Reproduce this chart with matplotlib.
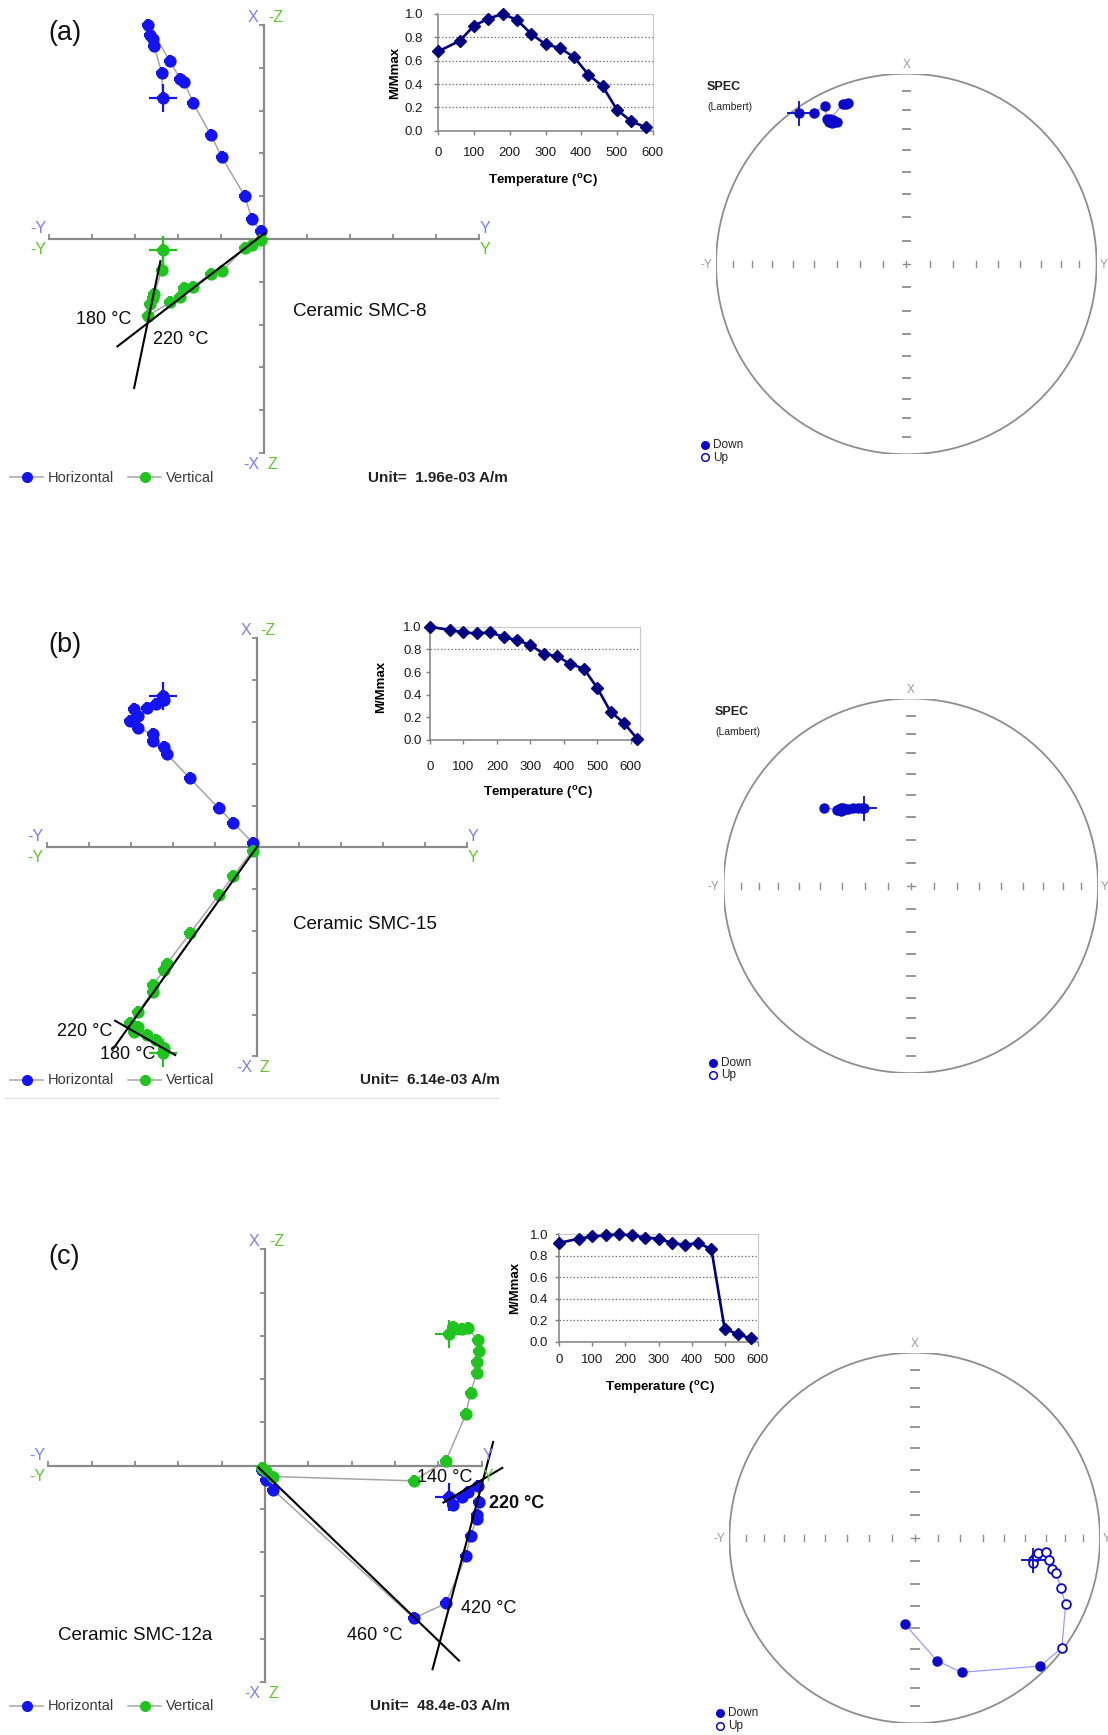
import numpy as np
import matplotlib
matplotlib.use("Agg")
import matplotlib.pyplot as plt
from matplotlib.patches import Circle
from matplotlib.ticker import FormatStrFormatter

plt.rcParams["font.family"] = ["Liberation Sans", "DejaVu Sans"]
plt.rcParams["mathtext.fontset"] = "custom"
plt.rcParams["mathtext.rm"] = "Liberation Sans"
plt.rcParams["mathtext.bf"] = "Liberation Sans:bold"

W, H, DPI = 1108, 1735, 100

# ---------------- thermal demagnetisation: steps (deg C) and M/Mmax ----------------
temp_a = [0, 60, 100, 140, 180, 220, 260, 300, 340, 380, 420, 460, 500, 540, 580]
mnorm_a = [0.68, 0.77, 0.90, 0.96, 1.00, 0.95, 0.83, 0.74, 0.71, 0.63, 0.48, 0.38, 0.18, 0.08, 0.03]

temp_b = [0, 60, 100, 140, 180, 220, 260, 300, 340, 380, 420, 460, 500, 540, 580, 620]
mnorm_b = [1.00, 0.97, 0.95, 0.94, 0.95, 0.91, 0.88, 0.84, 0.76, 0.74, 0.67, 0.63, 0.46, 0.25, 0.15, 0.01]

temp_c = [0, 60, 100, 140, 180, 220, 260, 300, 340, 380, 420, 460, 500, 540, 580]
mnorm_c = [0.92, 0.96, 0.98, 0.99, 1.00, 0.99, 0.97, 0.96, 0.92, 0.90, 0.92, 0.86, 0.12, 0.07, 0.03]

# ---------------- vector end points (Unit), Y east, X north, Z down ----------------
y_a = [-2.35, -2.38, -2.55, -2.58, -2.66, -2.69, -2.19, -1.95, -1.85, -1.65, -1.24, -0.98, -0.45, -0.28, -0.08]
x_a = [3.29, 3.88, 4.50, 4.67, 4.77, 5.00, 4.16, 3.74, 3.66, 3.18, 2.44, 1.91, 1.01, 0.47, 0.18]
z_a = [0.25, 0.73, 1.28, 1.38, 1.53, 1.79, 1.48, 1.36, 1.15, 1.12, 0.81, 0.75, 0.21, 0.13, 0.02]

y_b = [-2.22, -2.20, -2.40, -2.62, -2.91, -2.82, -3.01, -2.82, -2.48, -2.48, -2.20, -2.14, -1.59, -0.90, -0.56, -0.10]
x_b = [3.62, 3.53, 3.42, 3.34, 3.31, 3.13, 3.01, 2.85, 2.71, 2.55, 2.41, 2.23, 1.65, 0.93, 0.59, 0.11]
z_b = [4.93, 4.81, 4.60, 4.49, 4.41, 4.30, 4.21, 3.93, 3.46, 3.30, 2.94, 2.79, 2.06, 1.14, 0.69, 0.08]

y_c = [4.25, 4.35, 4.54, 4.69, 4.92, 4.94, 4.90, 4.89, 4.75, 4.64, 4.18, 3.44, 0.18, 0.02, -0.06]
x_c = [-0.72, -0.91, -0.72, -0.60, -0.48, -0.83, -1.14, -1.22, -1.62, -2.08, -3.18, -3.52, -0.55, -0.33, -0.10]
z_c = [-3.05, -3.21, -3.15, -3.17, -2.90, -2.65, -2.40, -2.15, -1.69, -1.19, -0.12, 0.35, 0.25, 0.12, 0.06]

# fitted component lines ((y0, v0), (y1, v1)) in the same units
fits_a = [((-3.41, -2.51), (0.02, 0.14)), ((-2.41, -0.52), (-3.02, -3.48))]
fits_b = [((0.0, 0.0), (-3.41, -4.81)), ((-3.37, -4.15), (-1.94, -4.97))]
fits_c = [((-0.15, -0.04), (4.48, -4.50)), ((5.27, 0.55), (3.87, -4.70)),
          ((4.12, -0.85), (5.48, -0.05))]

# ---------------- directions (declination, inclination) for the equal-area nets ----------------
dec_a = [324.7, 328.7, 332.8, 331.2, 332.1, 332.1, 333.9, 332.5, 331.5, 332.6, 333.0, 332.4, 338.3, 340.2, 339.5]
inc_a = [3.0, 7.7, 7.2, 14.3, 15.5, 17.4, 17.9, 16.8, 16.0, 17.0, 16.2, 15.0, 10.6, 11.2, 11.0]

dec_b = [329.2, 328.0, 325.9, 323.4, 320.9, 318.3, 317.0, 318.0, 317.5, 318.5, 319.0, 317.0, 318.0, 319.5, 316.0, 312.1]
inc_b = [49.9, 49.5, 48.6, 47.3, 46.1, 44.9, 43.3, 44.0, 43.5, 44.5, 44.0, 44.5, 43.5, 45.0, 43.0, 37.8]

dec_c = [100.5, 102.0, 98.5, 96.8, 96.0, 99.3, 102.8, 103.8, 108.8, 113.7, 126.8, 135.6, 160.7, 169.6, 186.4]
inc_c = [-35.2, -34.9, -34.0, -33.3, -29.7, -27.3, -24.8, -22.5, -17.9, -12.0, -1.0, 3.7, 24.2, 33.0, 51.3]

# ---------------- styling ----------------
BLUE = "#1414f2"
GREEN = "#1fc41f"
PATH = "#a5a5a5"
AXG = "#8a8a8a"
HLAB = "#7c7cf8"
VLAB = "#5cc92e"
NAVY = "#000080"
NETG = "#8e8e8e"
SBLUE = "#0a0ac8"
SLINE = "#9a9aff"

fig = plt.figure(figsize=(W / DPI, H / DPI), dpi=DPI, facecolor="white")


def px_axes(left, top, right, bottom):
    return fig.add_axes([left / W, 1 - bottom / H, (right - left) / W, (bottom - top) / H])


def zijderveld(cx, cy, ux, uy, ye, xn, zd, fits):
    ax = px_axes(cx - 5 * ux, cy - 5 * uy, cx + 5 * ux, cy + 5 * uy)
    ax.set_xlim(-5, 5)
    ax.set_ylim(-5, 5)
    ax.patch.set_visible(False)
    ax.spines[["top", "right"]].set_visible(False)
    for s in ("left", "bottom"):
        ax.spines[s].set_position(("data", 0))
        ax.spines[s].set_color(AXG)
        ax.spines[s].set_linewidth(1.6)
    ticks = [t for t in range(-5, 6) if t != 0]
    ax.set_xticks(ticks)
    ax.set_yticks(ticks)
    ax.tick_params(axis="x", direction="in", length=3.5, width=1.3, color=AXG, labelbottom=False)
    ax.tick_params(axis="y", direction="out", length=3.5, width=1.3, color=AXG, labelleft=False)
    ye = np.asarray(ye)
    for v, col in ((np.asarray(xn), BLUE), (-np.asarray(zd), GREEN)):
        ax.plot(ye, v, "-", color=PATH, lw=1.1, zorder=2, clip_on=False)
        ax.plot(ye, v, "o", color=col, ms=7.8, zorder=3, clip_on=False)
        ax.plot(ye, v, "P", color=col, ms=8.2, mew=0, zorder=3, clip_on=False)
        ax.plot(ye[0], v[0], "+", color=col, ms=20, mew=1.6, zorder=3, clip_on=False)
    for p0, p1 in fits:
        ax.plot([p0[0], p1[0]], [p0[1], p1[1]], color="black", lw=1.5, zorder=4, clip_on=False)
    return ax


def demag(left, top, right, bottom, temps, m, xmax, grid, xpad, ypad, xlab, ylab):
    ax = px_axes(left, top, right, bottom)
    ax.set_xlim(0, xmax)
    ax.set_ylim(0, 1)
    for g in grid:
        ax.axhline(g, color="#7a7a7a", lw=0.9, ls=(0, (1.2, 1.6)), zorder=1)
    ax.plot(temps, m, "-", color=NAVY, lw=1.9, marker="D", ms=6.3, zorder=3, clip_on=False)
    ax.set_xticks(range(0, 601, 100))
    ax.set_yticks(np.round(np.arange(0, 1.01, 0.2), 1))
    ax.yaxis.set_major_formatter(FormatStrFormatter("%.1f"))
    for s in ("top", "right"):
        ax.spines[s].set_color("#c8c8c8")
    for s in ("left", "bottom"):
        ax.spines[s].set_color("#808080")
        ax.spines[s].set_linewidth(1.1)
    ax.tick_params(length=3, width=1, color="#808080", labelsize=9.5, labelcolor="#1a1a1a")
    ax.tick_params(axis="x", pad=xpad)
    ax.tick_params(axis="y", pad=ypad)
    ax.set_xlabel(r"Temperature ($^{\mathbf{o}}$C)", fontsize=9.5, fontweight="bold")
    ax.set_ylabel("M/Mmax", fontsize=9.5, fontweight="bold")
    ax.xaxis.set_label_coords((xlab[0] - left) / (right - left), (bottom - xlab[1]) / (bottom - top))
    ax.xaxis.label.set_va("center")
    ax.yaxis.set_label_coords((ylab[0] - left) / (right - left), (bottom - ylab[1]) / (bottom - top))
    ax.yaxis.label.set_va("center")
    return ax


def lambert(dec, inc):
    d = np.radians(np.asarray(dec))
    i = np.radians(np.abs(np.asarray(inc)))
    r = np.sqrt(2) * np.sin((np.pi / 2 - i) / 2)
    return r * np.sin(d), r * np.cos(d)


def stereonet(cx, cy, R, dec, inc):
    ax = px_axes(cx - R, cy - R, cx + R, cy + R)
    ax.set_xlim(-1, 1)
    ax.set_ylim(-1, 1)
    ax.axis("off")
    ax.add_patch(Circle((0, 0), 1, fill=False, ec=NETG, lw=1.3))
    rr = np.sqrt(2) * np.sin(np.radians((90 - np.arange(10, 90, 10)) / 2))
    th, tw = 3.2 / R, 3.8 / R
    for r in rr:
        for s in (-1, 1):
            ax.plot([s * r, s * r], [-th, th], color=NETG, lw=1.0)
            ax.plot([-tw, tw], [s * r, s * r], color=NETG, lw=1.3)
    ax.plot([-tw, tw], [0, 0], color=NETG, lw=1.0)
    ax.plot([0, 0], [-th, th], color=NETG, lw=1.0)
    x, y = lambert(dec, inc)
    down = np.asarray(inc) >= 0
    ax.plot(x, y, "-", color=SLINE, lw=0.9, zorder=2)
    ax.plot(x[down], y[down], "o", color=SBLUE, ms=6.5, zorder=3)
    ax.plot(x[~down], y[~down], "o", mfc="white", mec=SBLUE, mew=1.3, ms=6.3, zorder=3)
    ax.plot(x[0], y[0], "+", color=SBLUE, ms=18, mew=1.3, zorder=4)
    return ax


# ---------------- panels ----------------
panels = [
    dict(tag="(a)", tagxy=(65, 33), cx=264.0, cy=239.0, ux=43.0, uy=42.8,
         y=y_a, x=x_a, z=z_a, fits=fits_a,
         name="Ceramic SMC-8", namexy=(360, 312), unit="Unit=  1.96e-03 A/m", ly=477.5, unitx=368,
         steps=[("180 °C", 104, 320, "normal"), ("220 °C", 181, 339, "normal")],
         inset=(438.3, 14.0, 652.7, 130.7), temps=temp_a, m=mnorm_a, xmax=600,
         grid=[0.2, 0.4, 0.6, 0.8], xpad=9, ypad=8, xlab=(543, 180), ylab=(395, 73),
         net=(906.3, 264.0, 190.3), dec=dec_a, inc=inc_a, spec=(707, 86.7, 107.3),
         dl=(705, 445)),
    dict(tag="(b)", tagxy=(65, 645), cx=256.7, cy=847.3, ux=42.0, uy=41.8,
         y=y_b, x=x_b, z=z_b, fits=fits_b,
         name="Ceramic SMC-15", namexy=(365, 924), unit="Unit=  6.14e-03 A/m", ly=1080, unitx=360,
         steps=[("220 °C", 85, 1031, "normal"), ("180 °C", 128, 1054, "normal")],
         inset=(430.0, 626.7, 640.0, 740.0), temps=temp_b, m=mnorm_b, xmax=628,
         grid=[0.8], xpad=12, ypad=3, xlab=(538, 792.5), ylab=(381, 687),
         net=(910.8, 885.8, 187.3), dec=dec_b, inc=inc_b, spec=(715, 711.7, 731.7),
         dl=(713.3, 1062.7)),
    dict(tag="(c)", tagxy=(64, 1257), cx=265.0, cy=1465.7, ux=43.3, uy=43.3,
         y=y_c, x=x_c, z=z_c, fits=fits_c,
         name="Ceramic SMC-12a", namexy=(135, 1635), unit="Unit=  48.4e-03 A/m", ly=1705.7, unitx=370,
         steps=[("140 °C", 445, 1477, "normal"), ("220 °C", 517, 1503, "bold"),
                ("420 °C", 489, 1608, "normal"), ("460 °C", 375, 1635, "normal")],
         inset=(559.3, 1234.3, 757.7, 1341.7), temps=temp_c, m=mnorm_c, xmax=600,
         grid=[0.2, 0.4, 0.6, 0.8], xpad=6, ypad=5, xlab=(660, 1388), ylab=(515, 1288),
         net=(914.7, 1538.0, 185.3), dec=dec_c, inc=inc_c, spec=None,
         dl=(720, 1713.3)),
]

for p in panels:
    zijderveld(p["cx"], p["cy"], p["ux"], p["uy"], p["y"], p["x"], p["z"], p["fits"])
    demag(*p["inset"], p["temps"], p["m"], p["xmax"], p["grid"], p["xpad"], p["ypad"], p["xlab"], p["ylab"])
    stereonet(*p["net"], p["dec"], p["inc"])

# pixel overlay for annotation text and the small legends
ov = fig.add_axes([0, 0, 1, 1])
ov.set_xlim(0, W)
ov.set_ylim(H, 0)
ov.axis("off")


def T(x, y, s, ha="center", **kw):
    ov.text(x, y, s, ha=ha, va="center", **kw)


for p in panels:
    cx, cy, ux, uy = p["cx"], p["cy"], p["ux"], p["uy"]
    top, bot, lft, rgt = cy - 5 * uy, cy + 5 * uy, cx - 5 * ux, cx + 5 * ux
    T(*p["tagxy"], p["tag"], fontsize=19.5, color="#111111")
    # axis end labels
    T(cx - 11, top - 8, "X", fontsize=11.5, color=HLAB)
    T(cx + 11.5, top - 8, "-Z", fontsize=11.5, color=VLAB)
    T(cx - 12.5, bot + 11.5, "-X", fontsize=11.5, color=HLAB)
    T(cx + 8, bot + 11.5, "Z", fontsize=11.5, color=VLAB)
    T(lft - 11, cy - 10.5, "-Y", fontsize=11.5, color=HLAB)
    T(lft - 11, cy + 10.5, "-Y", fontsize=11.5, color=VLAB)
    T(rgt + 6, cy - 10.5, "Y", fontsize=11.5, color=HLAB)
    T(rgt + 6, cy + 10.5, "Y", fontsize=11.5, color=VLAB)
    T(*p["namexy"], p["name"], fontsize=13.5, color="#0d0d0d")
    for s, sx, sy, wt in p["steps"]:
        T(sx, sy, s, fontsize=13, fontweight=wt, color="#0d0d0d")
    # legend of the projection planes
    ly = p["ly"]
    ov.plot([10, 43], [ly, ly], color=PATH, lw=1.1)
    ov.plot([26.7], [ly], "o", color=BLUE, ms=7)
    T(48, ly, "Horizontal", ha="left", fontsize=10.5, color="#3a3a3a")
    ov.plot([128, 161], [ly, ly], color=PATH, lw=1.1)
    ov.plot([144.5], [ly], "o", color=GREEN, ms=7)
    T(166, ly, "Vertical", ha="left", fontsize=10.5, color="#3a3a3a")
    T(p["unitx"], ly, p["unit"], ha="left", fontsize=11, fontweight="bold", color="#222222")
    # equal-area net labels
    ncx, ncy, R = p["net"]
    T(ncx, ncy - R - 9, "X", fontsize=8.5, color="#9a9a9a")
    T(ncx - R - 10, ncy + 1, "-Y", fontsize=8.5, color="#9a9a9a")
    T(ncx + R + 7, ncy + 1, "Y", fontsize=8.5, color="#9a9a9a")
    if p["spec"] is not None:
        sx, sy1, sy2 = p["spec"]
        T(sx, sy1, "SPEC", ha="left", fontsize=9, fontweight="bold", color="#222222")
        T(sx, sy2, "(Lambert)", ha="left", fontsize=7.5, color="#222222")
    dx, dy = p["dl"]
    ov.plot([dx], [dy], "o", color=SBLUE, ms=5.5)
    ov.plot([dx], [dy + 12.5], "o", mfc="white", mec=SBLUE, mew=1.1, ms=5.5)
    T(dx + 8, dy, "Down", ha="left", fontsize=8.5, color="#222222")
    T(dx + 8, dy + 12.5, "Up", ha="left", fontsize=8.5, color="#222222")

# separator under the middle panel
ov.plot([5, 498], [1097.5, 1097.5], color="#e2e2e2", lw=1.0)

fig.savefig("out.png", dpi=DPI, facecolor="white")
